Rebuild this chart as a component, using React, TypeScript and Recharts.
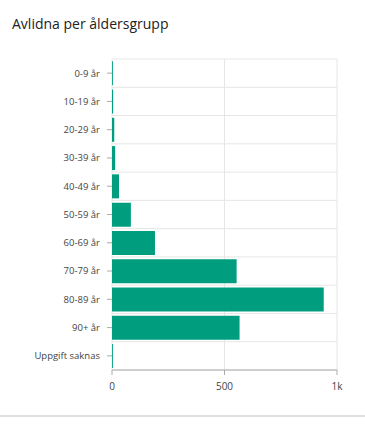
import React from "react";
import { BarChart, Bar, XAxis, YAxis, CartesianGrid } from "recharts";

const categories = [
  "0-9 år",
  "10-19 år",
  "20-29 år",
  "30-39 år",
  "40-49 år",
  "50-59 år",
  "60-69 år",
  "70-79 år",
  "80-89 år",
  "90+ år",
  "Uppgift saknas",
];
const deaths = [4, 5, 10, 14, 31, 84, 191, 554, 941, 567, 4];
const xTicks = [0, 500, 1000];

const data = categories.map((c, i) => ({ group: c, value: deaths[i] }));

const fmt = (v: number) => (v >= 1000 ? `${v / 1000}k` : `${v}`);

const FONT = "'Open Sans', 'Noto Sans', sans-serif";

export default function App() {
  return (
    <div
      style={{
        position: "absolute",
        left: 0,
        top: 0,
        width: 365,
        height: 424,
        background: "#fff",
        fontFamily: FONT,
      }}
    >
      <div
        style={{
          position: "absolute",
          left: 12,
          top: 14,
          fontSize: 14,
          color: "#222",
          fontFamily: FONT,
          whiteSpace: "nowrap",
        }}
      >
        Avlidna per åldersgrupp
      </div>
      <div style={{ position: "absolute", left: 0, top: 0 }}>
        <BarChart
          width={365}
          height={424}
          data={data}
          layout="vertical"
          margin={{ top: 59, right: 28, bottom: 24, left: 12 }}
          barCategoryGap="8%"
        >
          <CartesianGrid
            stroke="#e6e6e6"
            strokeWidth={1}
            horizontalCoordinatesGenerator={({ offset }: any) => {
              const n = categories.length;
              const out: number[] = [];
              for (let i = 0; i <= n; i++) out.push(offset.top + (i * offset.height) / n);
              return out;
            }}
          />
          <XAxis
            type="number"
            domain={[0, 1000]}
            ticks={xTicks}
            tickFormatter={fmt}
            height={30}
            tickSize={5}
            tickMargin={8}
            axisLine={{ stroke: "#aaa" }}
            tickLine={{ stroke: "#aaa" }}
            tick={{ fontSize: 10, fill: "#444", fontFamily: FONT }}
          />
          <YAxis
            type="category"
            dataKey="group"
            width={100}
            tickSize={5}
            tickMargin={7}
            axisLine={false}
            tickLine={{ stroke: "#aaa" }}
            tick={{ fontSize: 9.5, fill: "#444", fontFamily: FONT }}
            interval={0}
          />
          <Bar dataKey="value" fill="#009e7e" isAnimationActive={false} />
        </BarChart>
      </div>
      <div
        style={{
          position: "absolute",
          left: 0,
          top: 415,
          width: 365,
          height: 0,
          borderTop: "2px solid #e0e0e0",
        }}
      />
    </div>
  );
}
